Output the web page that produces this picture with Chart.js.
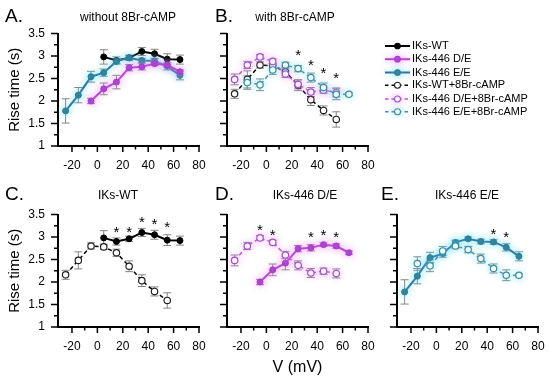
<!DOCTYPE html>
<html>
<head>
<meta charset="utf-8">
<script src="https://cdn.jsdelivr.net/npm/chart.js@4.4.1/dist/chart.umd.min.js"></script>
<style>
  body { margin: 0; background: #fff; }
  #wrap { position: relative; width: 550px; height: 379px; }
  #wrap canvas { position: absolute; left: 0; top: 0; }
</style>
</head>
<body>
<div id="wrap">
  <canvas id="cA" width="550" height="379"></canvas>
  <canvas id="cB" width="550" height="379"></canvas>
  <canvas id="cC" width="550" height="379"></canvas>
  <canvas id="cD" width="550" height="379"></canvas>
  <canvas id="cE" width="550" height="379"></canvas>
</div>
<script>
// axis ticks
const xMajor = [-20, 0, 20, 40, 60, 80];
const xMinor = [-10, 10, 30, 50, 70];
const yMajor = [1, 1.5, 2, 2.5, 3, 3.5];
const yMinor = [1.25, 1.75, 2.25, 2.75, 3.25];

// rise time (s) vs V (mV), mean and error
const vWT = [5, 15, 25, 35, 45, 55, 65];
const riseWT = [2.98, 2.90, 2.96, 3.10, 3.05, 2.93, 2.92];
const errWT = [0.16, 0.08, 0.06, 0.09, 0.10, 0.12, 0.10];

const vDE = [-5, 5, 15, 25, 35, 45, 55, 65];
const riseDE = [2.00, 2.27, 2.42, 2.74, 2.76, 2.83, 2.80, 2.65];
const errDE = [0.06, 0.13, 0.15, 0.07, 0.07, 0.04, 0.05, 0.04];

const vEE = [-25, -15, -5, 5, 15, 25, 35, 45, 55, 65];
const riseEE = [1.78, 2.13, 2.54, 2.63, 2.88, 2.96, 2.90, 2.89, 2.77, 2.57];
const errEE = [0.27, 0.17, 0.12, 0.08, 0.05, 0.04, 0.05, 0.05, 0.08, 0.10];

const vWTc = [-25, -15, -5, 5, 15, 25, 35, 45, 55];
const riseWTc = [2.16, 2.48, 2.80, 2.78, 2.65, 2.35, 2.03, 1.79, 1.59];
const errWTc = [0.10, 0.19, 0.07, 0.06, 0.08, 0.12, 0.13, 0.10, 0.17];

const vDEc = [-25, -15, -5, 5, 15, 25, 35, 45, 55];
const riseDEc = [2.48, 2.80, 2.98, 2.88, 2.60, 2.37, 2.20, 2.24, 2.19];
const errDEc = [0.12, 0.08, 0.05, 0.05, 0.08, 0.10, 0.10, 0.07, 0.10];

const vEEc = [-15, -5, 5, 15, 25, 35, 45, 55, 65];
const riseEEc = [2.41, 2.36, 2.69, 2.80, 2.72, 2.52, 2.30, 2.15, 2.15];
const errEEc = [0.15, 0.13, 0.10, 0.06, 0.07, 0.10, 0.10, 0.12, 0.03];

// significance stars (x, y position)
const starsBx = [25, 35, 45, 55];
const starsBy = [3.06, 2.85, 2.67, 2.56];
const starsCx = [15, 25, 35, 45, 55];
const starsCy = [3.16, 3.16, 3.37, 3.33, 3.26];
const starsDx = [-5, 5, 35, 45, 55];
const starsDy = [3.20, 3.10, 3.04, 3.08, 3.04];
const starsEx = [45, 55];
const starsEy = [3.11, 3.04];

const FONT = "'Liberation Sans', Arial, sans-serif";
Chart.defaults.font.family = FONT;
Chart.defaults.color = '#000';

const styles = {
  wt:  { label: 'IKs-WT', line: '#000', marker: '#000', open: false, glow: null },
  de:  { label: 'IKs-446 D/E', line: '#b83fd8', marker: '#a63dcf', open: false, glow: 'rgba(240,130,240,0.7)' },
  ee:  { label: 'IKs-446 E/E', line: '#2f6faa', marker: '#2b7d95', open: false, glow: 'rgba(90,220,235,0.7)' },
  wtc: { label: 'IKs-WT+8Br-cAMP', line: '#000', marker: '#222', open: true, glow: null },
  dec: { label: 'IKs-446 D/E+8Br-cAMP', line: '#c24fe2', marker: '#a050d0', open: true, glow: 'rgba(240,140,240,0.6)' },
  eec: { label: 'IKs-446 E/E+8Br-cAMP', line: '#4a86bf', marker: '#3a8e9e', open: true, glow: 'rgba(110,220,235,0.6)' }
};

function series(key, xs, ys, errs) {
  const s = styles[key];
  return {
    label: s.label,
    data: xs.map((x, i) => ({ x: x, y: ys[i] })),
    errs: errs,
    glow: s.glow,
    borderColor: s.line,
    borderWidth: s.open ? 1.5 : 2,
    borderDash: s.open ? [4, 3] : [],
    pointRadius: s.open ? 3.2 : 3,
    pointBackgroundColor: s.open ? '#fff' : s.marker,
    pointBorderColor: s.marker,
    pointBorderWidth: s.open ? 1.2 : 1,
    tension: 0
  };
}

// soft coloured halo around the coloured series, like in the figure
const glow = {
  id: 'glow',
  beforeDatasetDraw(chart, args) {
    const g = chart.data.datasets[args.index].glow;
    if (!g) return;
    chart.ctx.save();
    chart.ctx.shadowColor = g;
    chart.ctx.shadowBlur = 7;
  },
  afterDatasetDraw(chart, args) {
    if (chart.data.datasets[args.index].glow) chart.ctx.restore();
  }
};

const errorBars = {
  id: 'errorBars',
  beforeDatasetsDraw(chart) {
    const { ctx, scales: { x, y } } = chart;
    ctx.save();
    ctx.strokeStyle = '#858585';
    ctx.lineWidth = 1;
    chart.data.datasets.forEach(d => {
      d.data.forEach((p, i) => {
        const px = x.getPixelForValue(p.x);
        const lo = y.getPixelForValue(p.y - d.errs[i]);
        const hi = y.getPixelForValue(p.y + d.errs[i]);
        ctx.beginPath();
        ctx.moveTo(px, lo); ctx.lineTo(px, hi);
        ctx.moveTo(px - 4, lo); ctx.lineTo(px + 4, lo);
        ctx.moveTo(px - 4, hi); ctx.lineTo(px + 4, hi);
        ctx.stroke();
      });
    });
    ctx.restore();
  }
};

const decor = {
  id: 'decor',
  afterDraw(chart, args, o) {
    const { ctx, chartArea: a, scales: { x, y } } = chart;
    ctx.save();
    ctx.strokeStyle = '#000';
    ctx.lineWidth = 1.5;
    ctx.beginPath();
    xMajor.forEach(v => { const p = x.getPixelForValue(v); ctx.moveTo(p, a.bottom); ctx.lineTo(p, a.bottom + 6); });
    xMinor.forEach(v => { const p = x.getPixelForValue(v); ctx.moveTo(p, a.bottom); ctx.lineTo(p, a.bottom + 3.5); });
    yMajor.forEach(v => { const p = y.getPixelForValue(v); ctx.moveTo(a.left, p); ctx.lineTo(a.left - 7, p); });
    yMinor.forEach(v => { const p = y.getPixelForValue(v); ctx.moveTo(a.left, p); ctx.lineTo(a.left - 4, p); });
    ctx.stroke();

    ctx.fillStyle = '#000';
    ctx.textBaseline = 'middle';
    ctx.textAlign = 'left';
    ctx.font = '19px ' + FONT;
    ctx.fillText(o.letter, o.lx, o.ly);
    ctx.textAlign = 'center';
    ctx.font = '12px ' + FONT;
    ctx.fillText(o.title, o.tx, o.ty);

    if (o.ylabel) {
      ctx.save();
      ctx.translate(15, (a.top + a.bottom) / 2);
      ctx.rotate(-Math.PI / 2);
      ctx.font = '15px ' + FONT;
      ctx.fillText('Rise time (s)', 0, 0);
      ctx.restore();
    }
    if (o.xlabel) {
      ctx.font = '16px ' + FONT;
      ctx.fillText('V (mV)', (a.left + a.right) / 2, 368);
    }

    ctx.font = '15px ' + FONT;
    ctx.textBaseline = 'alphabetic';
    const m = ctx.measureText('*');
    const shift = (m.actualBoundingBoxAscent - m.actualBoundingBoxDescent) / 2;
    o.sx.forEach((v, i) => {
      ctx.fillText('*', x.getPixelForValue(v), y.getPixelForValue(o.sy[i]) + shift);
    });

    if (o.legend) {
      ctx.font = '11px ' + FONT;
      ctx.textAlign = 'left';
      ctx.textBaseline = 'middle';
      const rows = [46, 59.2, 72.5, 85.3, 99, 111.7];
      ['wt', 'de', 'ee', 'wtc', 'dec', 'eec'].forEach((k, i) => {
        const s = styles[k];
        const yy = rows[i];
        ctx.save();
        if (s.glow) { ctx.shadowColor = s.glow; ctx.shadowBlur = 6; }
        ctx.strokeStyle = s.line;
        ctx.lineWidth = s.open ? 1.5 : 2;
        ctx.setLineDash(s.open ? [3.5, 3] : []);
        ctx.beginPath(); ctx.moveTo(385, yy); ctx.lineTo(410, yy); ctx.stroke();
        ctx.setLineDash([]);
        ctx.beginPath(); ctx.arc(397.5, yy, s.open ? 3 : 2.8, 0, Math.PI * 2);
        ctx.fillStyle = s.open ? '#fff' : s.marker;
        ctx.fill();
        ctx.strokeStyle = s.marker; ctx.lineWidth = 1.1; ctx.stroke();
        ctx.restore();
        ctx.fillStyle = '#000';
        ctx.fillText(s.label, 412, yy);
      });
    }
    ctx.restore();
  }
};

function panel(id, box, datasets, deco, showY) {
  const yW = 50, xH = 30;
  new Chart(document.getElementById(id), {
    type: 'line',
    data: { datasets: datasets },
    options: {
      responsive: false,
      animation: false,
      layout: { padding: { left: box.left - yW, right: 550 - box.right, top: box.top, bottom: 379 - box.bottom - xH } },
      plugins: { legend: { display: false }, tooltip: { enabled: false }, decor: deco },
      scales: {
        x: {
          type: 'linear', min: -31, max: 80,
          afterBuildTicks: s => { s.ticks = xMajor.map(v => ({ value: v })); },
          afterFit: s => { s.height = xH; s.paddingLeft = 0; s.paddingRight = 0; },
          ticks: { font: { size: 12 }, padding: 12, maxRotation: 0, autoSkip: false },
          grid: { drawOnChartArea: false, drawTicks: false },
          border: { color: '#000', width: 2 }
        },
        y: {
          min: 1, max: 3.5,
          afterBuildTicks: s => { s.ticks = yMajor.map(v => ({ value: v })); },
          afterFit: s => { s.width = yW; s.paddingTop = 0; s.paddingBottom = 0; },
          ticks: { font: { size: 12 }, padding: 13, callback: v => showY ? String(v) : '' },
          grid: { drawOnChartArea: false, drawTicks: false },
          border: { color: '#000', width: 2 }
        }
      }
    },
    plugins: [errorBars, glow, decor]
  });
}

const row1 = { top: 33.5, bottom: 146 };
const row2 = { top: 214.5, bottom: 327 };

panel('cA', { left: 58, right: 199, ...row1 },
  [series('de', vDE, riseDE, errDE), series('ee', vEE, riseEE, errEE), series('wt', vWT, riseWT, errWT)],
  { letter: 'A.', lx: 5, ly: 17, title: 'without 8Br-cAMP', tx: 128, ty: 18, ylabel: true, sx: [], sy: [] }, true);

panel('cB', { left: 227, right: 368, ...row1 },
  [series('eec', vEEc, riseEEc, errEEc), series('dec', vDEc, riseDEc, errDEc), series('wtc', vWTc, riseWTc, errWTc)],
  { letter: 'B.', lx: 215, ly: 17, title: 'with 8Br-cAMP', tx: 295, ty: 18, sx: starsBx, sy: starsBy, legend: true }, false);

panel('cC', { left: 58, right: 199, ...row2 },
  [series('wtc', vWTc, riseWTc, errWTc), series('wt', vWT, riseWT, errWT)],
  { letter: 'C.', lx: 5, ly: 195, title: 'IKs-WT', tx: 118, ty: 196, ylabel: true, sx: starsCx, sy: starsCy }, true);

panel('cD', { left: 227, right: 368, ...row2 },
  [series('dec', vDEc, riseDEc, errDEc), series('de', vDE, riseDE, errDE)],
  { letter: 'D.', lx: 215, ly: 195, title: 'IKs-446 D/E', tx: 305, ty: 196, xlabel: true, sx: starsDx, sy: starsDy }, false);

panel('cE', { left: 397, right: 538, ...row2 },
  [series('eec', vEEc, riseEEc, errEEc), series('ee', vEE, riseEE, errEE)],
  { letter: 'E.', lx: 381, ly: 195, title: 'IKs-446 E/E', tx: 467, ty: 196, sx: starsEx, sy: starsEy }, false);
</script>
</body>
</html>
